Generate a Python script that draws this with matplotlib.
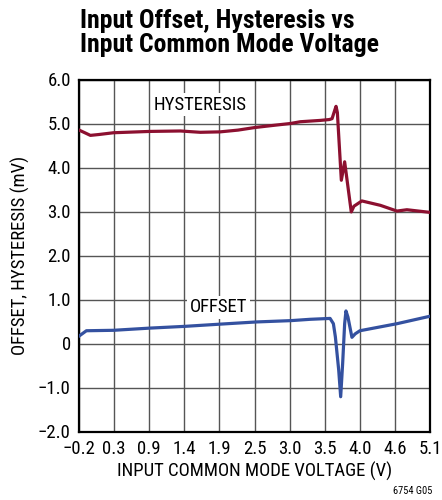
import numpy as np
import matplotlib
matplotlib.use('Agg')
import matplotlib.pyplot as plt

plt.rcParams['font.family'] = ['Roboto Condensed', 'Archivo Narrow', 'PT Sans Narrow', 'DejaVu Sans']

# hysteresis curve (mV) vs input common mode voltage (V)
hyst_x = [-0.2, -0.1, -0.03, 0.1, 0.32, 0.87, 1.33, 1.63, 1.93, 2.2, 2.46, 2.75, 2.99, 3.14,
          3.44, 3.58, 3.62, 3.66, 3.68, 3.70, 3.76, 3.81, 3.91, 3.95, 4.07, 4.35, 4.60, 4.75, 5.1]
hyst_y = [4.85, 4.78, 4.73, 4.75, 4.79, 4.82, 4.83, 4.80, 4.81, 4.85, 4.91, 4.96, 5.0, 5.04,
          5.07, 5.09, 5.11, 5.30, 5.39, 5.25, 3.71, 4.13, 2.99, 3.12, 3.24, 3.14, 3.01, 3.04, 2.98]

# offset curve (mV)
off_x = [-0.2, -0.09, 0.32, 0.87, 1.40, 1.93, 2.48, 3.0, 3.29, 3.59, 3.64, 3.67, 3.72, 3.75,
         3.78, 3.81, 3.83, 3.86, 3.92, 3.97, 4.04, 4.60, 5.1]
off_y = [0.17, 0.29, 0.30, 0.35, 0.39, 0.44, 0.49, 0.52, 0.55, 0.57, 0.45, 0.15, -0.6, -1.21,
         -0.45, 0.45, 0.74, 0.6, 0.14, 0.22, 0.29, 0.45, 0.62]

xticks = np.linspace(-0.2, 5.1, 11)
xlabels = ['\u22120.2', '0.3', '0.9', '1.4', '1.9', '2.5', '3.0', '3.5', '4.0', '4.6', '5.1']
yticks = [-2, -1, 0, 1, 2, 3, 4, 5, 6]
ylabels = ['\u22122.0', '\u22121.0', '0', '1.0', '2.0', '3.0', '4.0', '5.0', '6.0']

fig = plt.figure(figsize=(4.42, 5.0), dpi=100)
ax = fig.add_axes([0.179, 0.137, 0.794, 0.704])

ax.plot(hyst_x, hyst_y, color='#8C1030', lw=2.3, solid_joinstyle='round', zorder=3)
ax.plot(off_x, off_y, color='#3451A0', lw=2.3, solid_joinstyle='round', zorder=3)

ax.set_xlim(-0.2, 5.1)
ax.set_ylim(-2, 6)
ax.set_xticks(xticks)
ax.set_xticklabels(xlabels)
ax.set_yticks(yticks)
ax.set_yticklabels(ylabels)
ax.tick_params(length=0, labelsize=13.5, pad=6)
ax.grid(True, color='#555555', lw=1.0)
ax.set_axisbelow(True)
for s in ax.spines.values():
    s.set_linewidth(1.6)

ax.set_xlabel('INPUT COMMON MODE VOLTAGE (V)', fontsize=13.5, labelpad=3)
ax.set_ylabel('OFFSET, HYSTERESIS (mV)', fontsize=13.5, labelpad=6)

ax.text(1.63, 5.43, 'HYSTERESIS', fontsize=13.5, ha='center', va='center',
        bbox=dict(facecolor='white', edgecolor='none', pad=2), zorder=2)
ax.text(1.90, 0.82, 'OFFSET', fontsize=13.5, ha='center', va='center',
        bbox=dict(facecolor='white', edgecolor='none', pad=2), zorder=2)

fig.text(0.181, 0.982, 'Input Offset, Hysteresis vs\nInput Common Mode Voltage',
         fontsize=18.5, fontweight='bold', ha='left', va='top', linespacing=1.0)
fig.text(0.978, 0.008, '6754 G05', fontsize=7.5, ha='right', va='bottom')

fig.savefig('out.png', dpi=100)
